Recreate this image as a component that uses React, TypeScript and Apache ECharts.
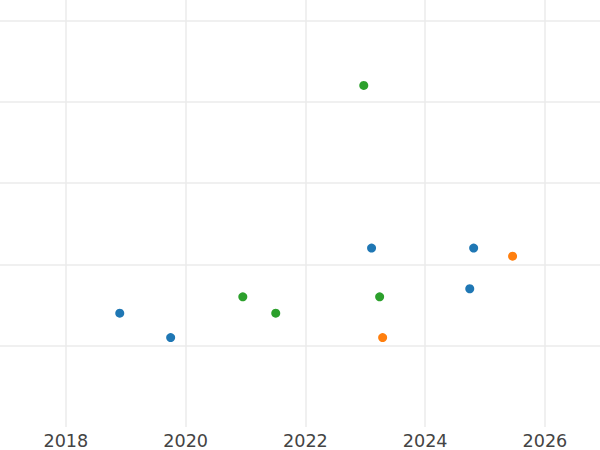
import React, { useEffect, useRef } from "react";
import * as echarts from "echarts";

const blueX = [2018.9, 2019.75, 2023.105, 2024.81, 2024.745];
const blueY = [1.4, 1.1, 2.2, 2.2, 1.7];
const orangeX = [2025.46, 2023.29];
const orangeY = [2.1, 1.1];
const greenX = [2022.975, 2020.955, 2021.505, 2023.24];
const greenY = [4.2, 1.6, 1.4, 1.6];

const zip = (xs: number[], ys: number[]) => xs.map((x, i) => [x, ys[i]]);

export default function App() {
  const ref = useRef<HTMLDivElement>(null);
  useEffect(() => {
    if (!ref.current) return;
    const chart = echarts.init(ref.current, undefined, { renderer: "svg" });
    const gridLine = { show: true, lineStyle: { color: "#ebebeb", width: 1.5 } };
    const dot = (color: string) => ({ color, opacity: 1 });
    chart.setOption({
      animation: false,
      backgroundColor: "#ffffff",
      grid: { left: 0, right: 0, top: 0, bottom: 23, containLabel: false },
      xAxis: {
        type: "value",
        min: 2016.9,
        max: 2026.92,
        minInterval: 2,
        maxInterval: 2,
        axisLine: { show: false },
        axisTick: { show: false },
        axisLabel: {
          formatter: (v: number) => String(v),
          color: "#444444",
          fontSize: 17.6,
          fontFamily: "DejaVu Sans",
          margin: 5,
          showMinLabel: false,
          showMaxLabel: false,
        },
        splitLine: { ...gridLine, showMinLine: false, showMaxLine: false },
      },
      yAxis: {
        type: "value",
        min: 0,
        max: 5.25,
        minInterval: 1,
        maxInterval: 1,
        axisLine: { show: false },
        axisTick: { show: false },
        axisLabel: { show: false },
        splitLine: { ...gridLine, showMinLine: false, showMaxLine: false },
      },
      series: [
        { type: "scatter", data: zip(blueX, blueY), symbolSize: 9, itemStyle: dot("#1f77b4") },
        { type: "scatter", data: zip(orangeX, orangeY), symbolSize: 9, itemStyle: dot("#ff7f0e") },
        { type: "scatter", data: zip(greenX, greenY), symbolSize: 9, itemStyle: dot("#2ca02c") },
      ],
    });
    return () => chart.dispose();
  }, []);
  return <div ref={ref} style={{ width: 600, height: 450, position: "fixed", left: 0, top: 0 }} />;
}
